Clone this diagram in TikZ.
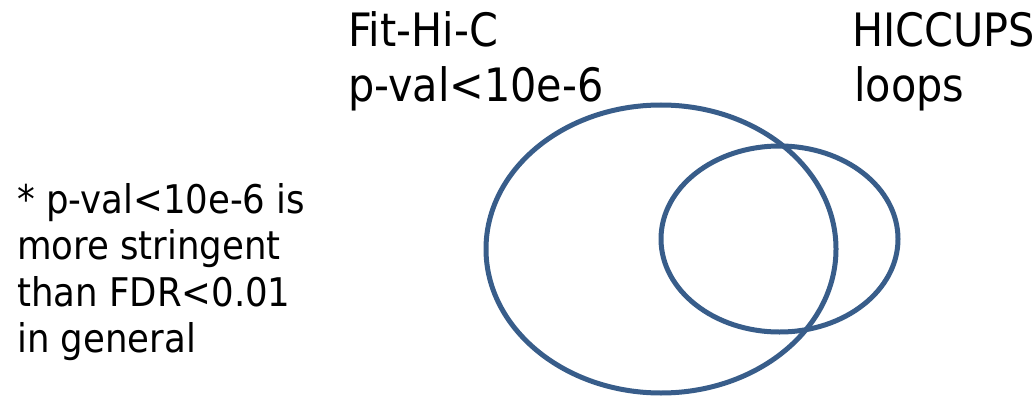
\documentclass[tikz,border=0pt]{standalone}
\usepackage{fontspec}
\setmainfont{DejaVu Sans Condensed}
\definecolor{vennblue}{HTML}{385D8A}
\begin{document}
\begin{tikzpicture}[x=1pt,y=1pt,
  big/.style={inner sep=0pt,anchor=base west,font=\fontsize{46}{55}\selectfont},
  small/.style={inner sep=0pt,anchor=base west,font=\fontsize{39.5}{47}\selectfont},
  venn/.style={draw=vennblue,line width=5pt}]
\useasboundingbox (0,0) rectangle (1035,397);
\node[big] (fit1) at (348,350) {Fit-Hi-C};
\node[big] (fit2) at (348,295) {p-val<10e-6};
\node[big] (hic1) at (852,350) {HICCUPS};
\node[big] (hic2) at (854,295) {loops};
\node[small] (n1) at (17,184) {* p-val<10e-6 is};
\node[small] (n2) at (17,138) {more stringent};
\node[small] (n3) at (17,91) {than FDR<0.01};
\node[small] (n4) at (17,45) {in general};
\draw[venn] (661,148) ellipse [x radius=175, y radius=144];
\draw[venn] (779.5,158) ellipse [x radius=118.5, y radius=93];
\end{tikzpicture}
\end{document}
